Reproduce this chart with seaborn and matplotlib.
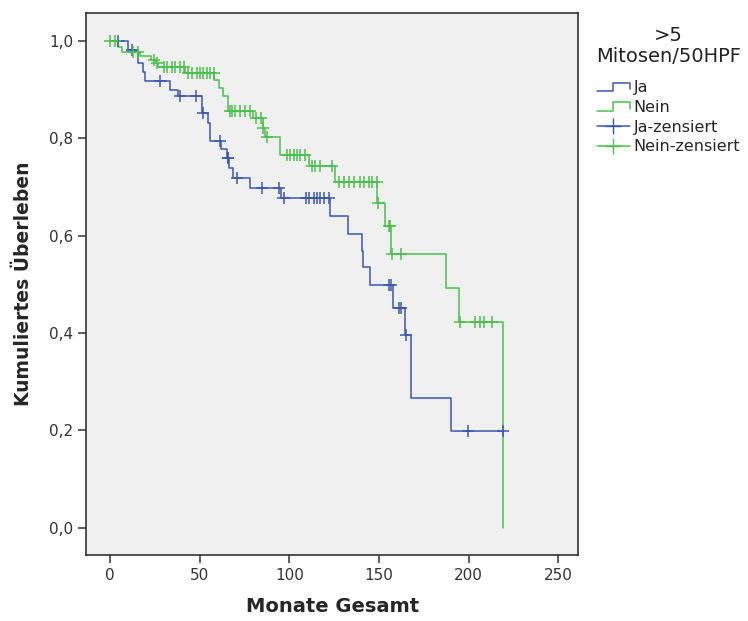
import numpy as np
import pandas as pd
import seaborn as sns
import matplotlib.pyplot as plt
from matplotlib.lines import Line2D
from matplotlib.legend_handler import HandlerBase
from matplotlib.ticker import FuncFormatter

# --- DATA ---
# Ja: event times (months) and survival after each step
JA_TIMES = [0, 10.2, 15.8, 18.5, 19.5, 33.5, 38, 51.5, 54.5, 55.8, 62, 65,
            66.5, 68.5, 78, 95.5, 122.8, 132.4, 140.2, 141, 145, 158, 164.6,
            168, 190]
JA_SURV = [1.0, 0.981, 0.954, 0.936, 0.917, 0.899, 0.886, 0.851, 0.831, 0.795,
           0.777, 0.759, 0.739, 0.718, 0.697, 0.677, 0.640, 0.604, 0.569, 0.535,
           0.498, 0.452, 0.396, 0.266, 0.198]
JA_CENSOR = [4.3, 12.5, 28, 39, 48, 52, 61.4, 65.5, 66, 70.7, 84.6, 94, 96.7,
             109, 110.7, 113.5, 115.3, 117.2, 119, 121.8, 155.3, 156.8, 161,
             162, 165, 199.4, 219.3]

# Nein
NEIN_TIMES = [0, 4.6, 6.5, 16.7, 23, 25.8, 27, 42, 58, 60.5, 63, 65.8, 79.5,
              85, 86.5, 94.5, 110.7, 125.6, 149, 153.3, 156.5, 187.3, 194.4, 219]
NEIN_SURV = [1.0, 0.988, 0.978, 0.968, 0.961, 0.954, 0.947, 0.934, 0.920, 0.903,
             0.886, 0.856, 0.841, 0.821, 0.803, 0.766, 0.742, 0.711, 0.667, 0.619,
             0.563, 0.493, 0.422, 0.0]
NEIN_CENSOR = [0, 2.8, 12.8, 15.6, 24.5, 26, 30, 31.6, 34.4, 36.3, 39, 41,
               43.7, 45.6, 48.4, 50.2, 52, 53.9, 55.8, 57.7, 67, 68, 69.8, 72.5,
               75.3, 78, 81.5, 84, 85.5, 87.4, 98.6, 100.4, 102.3, 104.1, 106,
               108.8, 112.5, 114.4, 117.2, 123.7, 127.4, 130.2, 133, 135.8,
               139.5, 141.4, 144.2, 146, 148.8, 149.5, 155.3, 156, 157, 162,
               195, 203.7, 206, 208.7, 213]

GROUPS = ["Ja", "Nein"]
COLORS = {"Ja": "#3C57B2", "Nein": "#4CC04C"}
LEGEND_TITLE = ">5\nMitosen/50HPF"
LEGEND_LABELS = ["Ja", "Nein", "Ja-zensiert", "Nein-zensiert"]


def surv_at(times, surv, t):
    idx = np.searchsorted(times, t, side="right") - 1
    return np.asarray(surv)[idx]


def build_frames():
    lines, cens = [], []
    for g, times, surv, cen in [("Ja", JA_TIMES, JA_SURV, JA_CENSOR),
                                ("Nein", NEIN_TIMES, NEIN_SURV, NEIN_CENSOR)]:
        t = list(times)
        s = list(surv)
        # extend the last step to the last censored case
        if max(cen) > t[-1] and s[-1] > 0:
            t.append(max(cen))
            s.append(s[-1])
        lines.append(pd.DataFrame({"t": t, "s": s, "group": g}))
        cens.append(pd.DataFrame({"t": cen,
                                  "s": surv_at(times, surv, np.asarray(cen)),
                                  "group": g}))
    return pd.concat(lines, ignore_index=True), pd.concat(cens, ignore_index=True)


class HandlerStep(HandlerBase):
    # little step icon like in SPSS legends
    def create_artists(self, legend, orig_handle, xdescent, ydescent,
                       width, height, fontsize, trans):
        x0, y0 = -xdescent, -ydescent
        xs = [x0, x0 + 0.5 * width, x0 + 0.5 * width, x0 + width, x0 + width]
        ys = [y0 + 0.1 * height, y0 + 0.1 * height, y0 + 0.85 * height,
              y0 + 0.85 * height, y0 + 0.25 * height]
        ln = Line2D(xs, ys, color=orig_handle.get_color(), linewidth=1.1,
                    transform=trans)
        return [ln]


def main():
    sns.set_style("ticks", {"axes.facecolor": "#F0F0F0"})
    plt.rcParams["font.family"] = ["DejaVu Sans"]

    line_df, cens_df = build_frames()

    fig = plt.figure(figsize=(7.48, 6.21), dpi=100)
    ax = fig.add_axes([0.115, 0.106, 0.658, 0.873])

    sns.lineplot(data=line_df, x="t", y="s", hue="group", hue_order=GROUPS,
                 palette=COLORS, drawstyle="steps-post", estimator=None,
                 sort=False, linewidth=1.1, legend=False, ax=ax)
    sns.scatterplot(data=cens_df, x="t", y="s", hue="group", hue_order=GROUPS,
                    palette=COLORS, marker="+", s=75, linewidth=1.1,
                    legend=False, zorder=3, ax=ax)

    ax.set_xlim(-13.4, 261)
    ax.set_ylim(-0.056, 1.057)
    ax.set_xticks([0, 50, 100, 150, 200, 250])
    ax.set_yticks([0, 0.2, 0.4, 0.6, 0.8, 1.0])
    ax.yaxis.set_major_formatter(FuncFormatter(lambda v, p: f"{v:.1f}".replace(".", ",")))
    ax.tick_params(axis="both", labelsize=11, length=6, width=1.1,
                   color="#333333", labelcolor="#333333", pad=3)

    for sp in ax.spines.values():
        sp.set_visible(True)
        sp.set_color("#333333")
        sp.set_linewidth(1.2)

    ax.set_xlabel("Monate Gesamt", fontsize=14, fontweight="bold", labelpad=10)
    ax.set_ylabel("Kumuliertes Überleben", fontsize=13.5, fontweight="bold",
                  labelpad=12)

    # legend title as separate centred text (SPSS leaves a gap below it)
    fig.text(0.894, 0.958, LEGEND_TITLE, ha="center", va="top", fontsize=14,
             color="#222222", linespacing=1.1)

    handles = [
        Line2D([], [], color=COLORS["Ja"]),
        Line2D([], [], color=COLORS["Nein"]),
        Line2D([], [], color=COLORS["Ja"], marker="+", markersize=11, linewidth=1.1),
        Line2D([], [], color=COLORS["Nein"], marker="+", markersize=11, linewidth=1.1),
    ]
    fig.legend(handles, LEGEND_LABELS, loc="upper left",
               bbox_to_anchor=(0.787, 0.884), frameon=False, fontsize=11.5,
               handlelength=2.1, handletextpad=0.2, labelspacing=0.3,
               borderpad=0,
               handler_map={handles[0]: HandlerStep(),
                            handles[1]: HandlerStep()})

    fig.savefig("out.png", dpi=100, facecolor="white")
    plt.close(fig)


if __name__ == "__main__":
    main()
